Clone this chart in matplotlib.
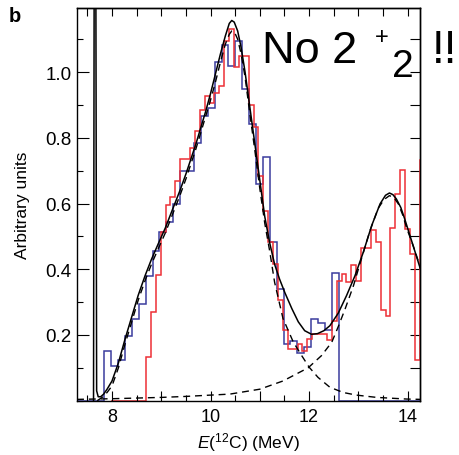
import numpy as np
import matplotlib
matplotlib.use("Agg")
import matplotlib.pyplot as plt
from matplotlib.ticker import MultipleLocator, NullFormatter, FixedLocator

plt.rcParams['font.family'] = ['Liberation Sans', 'DejaVu Sans']
plt.rcParams['mathtext.fontset'] = 'custom'
plt.rcParams['mathtext.rm'] = 'Liberation Sans'
plt.rcParams['mathtext.it'] = 'Liberation Sans:italic'
plt.rcParams['mathtext.bf'] = 'Liberation Sans:bold'

# blue histogram (0.14 MeV bins starting at 7.84 MeV)
blue_start, blue_width = 7.844, 0.1399
blue = [0.152, 0.105, 0.124, 0.198, 0.249, 0.294, 0.378, 0.454, 0.513, 0.543,
        0.600, 0.700, 0.700, 0.783, 0.866, 0.891, 1.030, 1.083, 1.018, 1.094,
        0.949, 0.842, 0.660, 0.741, 0.482, 0.340, 0.173, 0.183, 0.145, 0.162,
        0.249, 0.236, 0.215, 0.388]

# red histogram (~0.1 MeV bins starting at 8.69 MeV)
red_start, red_width = 8.69, 0.0992
red = [0.132, 0.269, 0.381, 0.513, 0.597, 0.621, 0.668, 0.734, 0.734, 0.768,
       0.820, 0.886, 0.928, 0.905, 0.937, 0.959, 1.095, 1.131, 1.015, 1.050,
       1.050, 0.900, 0.832, 0.685, 0.578, 0.482, 0.416, 0.305, 0.215, 0.157,
       0.157, 0.172, 0.152, 0.188, 0.203, 0.203, 0.203, 0.185, 0.244, 0.365,
       0.386, 0.360, 0.414, 0.365, 0.465, 0.465, 0.520, 0.482, 0.276, 0.259,
       0.525, 0.629, 0.703, 0.523, 0.447, 0.125, 0.731]

# total fit (solid)
fit_E = [7.625, 7.638, 7.672, 7.688, 7.72, 7.77, 7.83, 7.90, 8.00, 8.13, 8.26,
         8.40, 8.53, 8.67, 8.80, 8.94, 9.08, 9.21, 9.38, 9.50, 9.60, 9.70,
         9.80, 9.90, 10.00, 10.10, 10.20, 10.30, 10.38, 10.43, 10.48, 10.55,
         10.62, 10.70, 10.80, 10.90, 11.00, 11.10, 11.20, 11.30, 11.40, 11.51,
         11.65, 11.78, 11.91, 12.05, 12.17, 12.30, 12.42, 12.59, 12.76, 12.93,
         13.10, 13.27, 13.44, 13.55, 13.63, 13.70, 13.77, 13.86, 13.94, 14.03,
         14.11, 14.26]
fit_v = [0.0, 1.3, 1.3, 0.03, 0.012, 0.012, 0.02, 0.035, 0.06, 0.115, 0.185,
         0.255, 0.32, 0.38, 0.43, 0.478, 0.525, 0.575, 0.64, 0.69, 0.735, 0.78,
         0.83, 0.88, 0.935, 0.995, 1.055, 1.11, 1.148, 1.157, 1.152, 1.125,
         1.075, 1.00, 0.89, 0.78, 0.67, 0.56, 0.48, 0.415, 0.37, 0.328,
         0.28, 0.24, 0.213, 0.202, 0.204, 0.213, 0.228, 0.266, 0.32, 0.38,
         0.452, 0.533, 0.599, 0.625, 0.632, 0.627, 0.614, 0.588, 0.553, 0.51,
         0.472, 0.40]

# first broad component (dashed)
c1_E = [7.70, 7.80, 7.90, 8.00, 8.13, 8.26, 8.40, 8.53, 8.67, 8.80, 8.94,
        9.08, 9.21, 9.38, 9.50, 9.60, 9.70, 9.80, 9.90, 10.00, 10.10, 10.20,
        10.30, 10.38, 10.43, 10.48, 10.55, 10.62, 10.70, 10.80, 10.90, 11.00,
        11.10, 11.20, 11.30, 11.47, 11.68, 11.85, 12.00, 12.18, 12.42, 12.69,
        12.96, 13.37, 13.98, 14.26]
c1_v = [0.0, 0.01, 0.025, 0.045, 0.10, 0.17, 0.24, 0.305, 0.365, 0.415, 0.463,
        0.51, 0.56, 0.625, 0.675, 0.72, 0.765, 0.815, 0.865, 0.915, 0.97, 1.03,
        1.085, 1.115, 1.125, 1.123, 1.10, 1.055, 0.985, 0.87, 0.76, 0.645,
        0.54, 0.455, 0.36, 0.25, 0.178, 0.137, 0.102, 0.071, 0.041, 0.025,
        0.017, 0.010, 0.005, 0.004]

# second broad component (dashed)
c2_E = [7.29, 8.0, 8.5, 9.0, 9.5, 10.0, 10.39, 11.0, 11.47, 11.98, 12.25,
        12.46, 12.59, 12.73, 12.90, 13.06, 13.23, 13.40, 13.52, 13.63, 13.72,
        13.81, 13.90, 13.98, 14.11, 14.26]
c2_v = [0.004, 0.006, 0.008, 0.010, 0.013, 0.017, 0.02, 0.035, 0.06, 0.10, 0.137,
        0.178, 0.225, 0.279, 0.350, 0.431, 0.515, 0.585, 0.612, 0.624, 0.618,
        0.599, 0.565, 0.525, 0.472, 0.405]

blue_col = '#3a3c9e'
red_col = '#ee2f35'

fig = plt.figure(figsize=(4.59, 4.56), dpi=100)
ax = fig.add_axes([0.1678, 0.1191, 0.7483, 0.8612])

b_edges = blue_start + blue_width * np.arange(len(blue) + 1)
ax.stairs([0] + blue + [0], np.concatenate([[7.0], b_edges, [14.6]]),
          color=blue_col, lw=1.1, baseline=None)
r_edges = red_start + red_width * np.arange(len(red) + 1)
ax.stairs([0] + red, np.concatenate([[7.97], r_edges]),
          color=red_col, lw=1.1, baseline=None)

ax.plot(fit_E, fit_v, color='black', lw=1.1)
ax.plot(c1_E, c1_v, color='black', lw=1.0, ls=(0, (5, 3.5)))
ax.plot(c2_E, c2_v, color='black', lw=1.0, ls=(0, (5, 3.5)))

ax.set_xlim(7.29, 14.26)
ax.set_ylim(0, 1.195)

ax.xaxis.set_major_locator(MultipleLocator(1))
ax.xaxis.set_minor_locator(MultipleLocator(0.5))
ax.xaxis.set_major_formatter(lambda x, pos: f"{x:.0f}" if round(x) % 2 == 0 else "")
ax.yaxis.set_major_locator(FixedLocator([0.2, 0.4, 0.6, 0.8, 1.0]))
ax.yaxis.set_minor_locator(MultipleLocator(0.1))
ax.tick_params(which='major', axis='x', direction='in', length=7, width=0.8,
               labelsize=13, pad=5)
ax.tick_params(which='minor', axis='x', direction='in', length=4.3, width=0.8)
ax.tick_params(which='major', axis='y', direction='in', length=8.6, width=0.8,
               labelsize=13.5, pad=4)
ax.tick_params(which='minor', axis='y', direction='in', length=4.3, width=0.8)

top = ax.secondary_xaxis('top')
top.xaxis.set_major_locator(MultipleLocator(0.5))
top.xaxis.set_major_formatter(NullFormatter())
top.tick_params(direction='in', length=5.8, width=0.8)
right = ax.secondary_yaxis('right')
right.yaxis.set_major_locator(MultipleLocator(0.1))
right.yaxis.set_major_formatter(NullFormatter())
right.tick_params(direction='in', length=7.5, width=0.8)

for s in list(ax.spines.values()) + [top.spines['top'], right.spines['right']]:
    s.set_linewidth(1.0)

ax.set_ylabel('Arbitrary units', fontsize=12.5, labelpad=11)
ax.set_xlabel(r'$\it{E}$($^{12}$C) (MeV)', fontsize=12.5, labelpad=4)

fig.text(9 / 459, 1 - 22 / 456, 'b', fontsize=14.5, fontweight='bold')
fig.text(262 / 459, 1 - 63 / 456, 'No 2', fontsize=32.5, va='baseline')
fig.text(382 / 459, 1 - 38 / 456, '+', fontsize=17, ha='center', va='center')
fig.text(392 / 459, 1 - 77 / 456, '2', fontsize=28, va='baseline')
fig.text(432 / 459, 1 - 63 / 456, '!!', fontsize=33, va='baseline')

fig.savefig('out.png', dpi=100)
